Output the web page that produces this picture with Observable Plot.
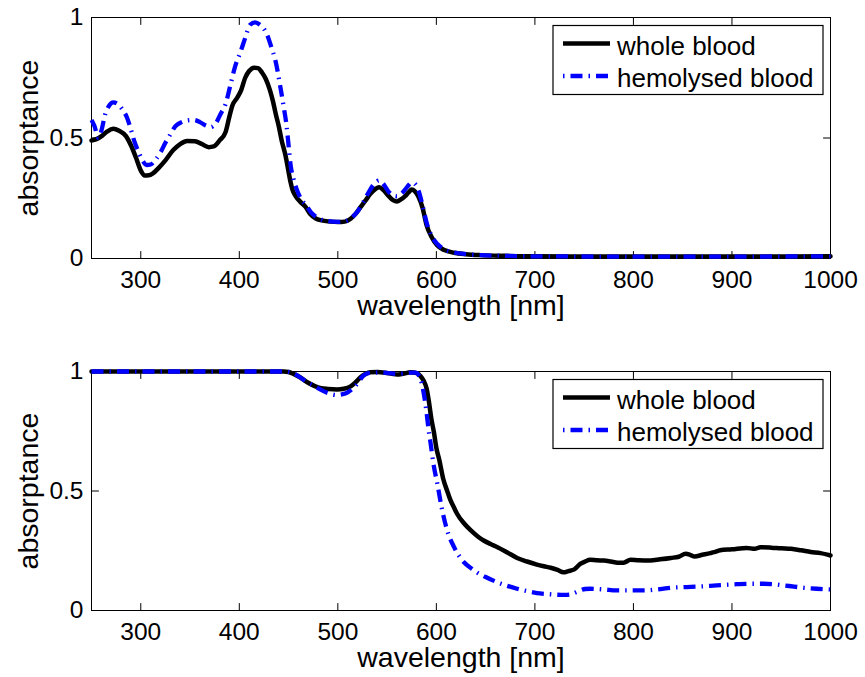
<!DOCTYPE html>
<html><head><meta charset="utf-8">
<script src="https://cdn.jsdelivr.net/npm/d3@7"></script>
<script src="https://cdn.jsdelivr.net/npm/@observablehq/plot@0.6"></script>
<style>
html,body{margin:0;padding:0;background:#fff;}
#chart svg{display:block;}
</style></head><body><div id="chart"></div>
<script>
// ---- tick values / labels ----
const xTicks = [300, 400, 500, 600, 700, 800, 900, 1000];
const xTickLabels = ["300", "400", "500", "600", "700", "800", "900", "1000"];
const yTicks = [0, 0.5, 1];
const yTickLabels = ["0", "0.5", "1"];
const xLabel = "wavelength [nm]";
const yLabel = "absorptance";
const seriesNames = ["whole blood", "hemolysed blood"];

// ---- top panel: whole blood ----
const topWholeWl = [250,255,261,266,272,278,285,290,295,300,304,308,312,318,325,333,340,347,355,362,369,374,380,386,390,393,398,402,406,410,415,419,423,427,431,434,437,440,443,447,450,452,454,457,462,467,472,478,485,492,500,507,513,518,523,528,533,538,542,546,551,556,560,564,568,572,575,578,582,586,590,595,601,608,618,630,645,670,700,800,900,1000];
const topWholeAbs = [0.49,0.495,0.51,0.527,0.538,0.53,0.508,0.47,0.42,0.365,0.344,0.345,0.352,0.375,0.407,0.45,0.475,0.488,0.487,0.475,0.462,0.465,0.49,0.524,0.59,0.635,0.668,0.7,0.75,0.778,0.792,0.79,0.772,0.744,0.7,0.655,0.6,0.55,0.49,0.425,0.36,0.317,0.285,0.26,0.235,0.215,0.185,0.165,0.157,0.153,0.151,0.153,0.165,0.185,0.213,0.24,0.268,0.288,0.296,0.285,0.262,0.242,0.237,0.245,0.258,0.275,0.286,0.28,0.255,0.21,0.14,0.09,0.054,0.035,0.024,0.018,0.014,0.011,0.009,0.008,0.008,0.009];

// ---- top panel: hemolysed blood ----
const topHemoWl = [250,253,257,260,264,268,272,277,281,286,290,294,298,302,306,310,315,320,325,330,335,341,347,354,360,366,371,376,381,386,391,396,401,406,411,416,421,425,429,432,437,442,445,448,450,452,455,458,463,468,473,480,490,500,508,514,520,526,532,537,542,546,551,556,560,565,570,575,578,582,586,590,595,601,608,618,630,645,670,700,800,900,1000];
const topHemoAbs = [0.575,0.55,0.5,0.53,0.6,0.635,0.648,0.64,0.62,0.585,0.535,0.48,0.44,0.405,0.388,0.39,0.41,0.44,0.48,0.515,0.548,0.565,0.573,0.575,0.566,0.552,0.545,0.56,0.6,0.64,0.72,0.8,0.855,0.915,0.97,0.98,0.97,0.953,0.92,0.884,0.815,0.704,0.63,0.55,0.47,0.39,0.33,0.29,0.245,0.22,0.19,0.168,0.155,0.152,0.156,0.17,0.195,0.235,0.28,0.31,0.324,0.31,0.28,0.262,0.258,0.27,0.295,0.315,0.31,0.28,0.22,0.15,0.095,0.06,0.038,0.025,0.018,0.014,0.011,0.009,0.008,0.008,0.009];

// ---- bottom panel: whole blood ----
const botWholeWl = [250,300,350,400,445,450,455,462,469,476,483,490,499,506,513,518,523,528,533,540,548,555,560,566,574,580,584,587,590,592,595,597.5,600,603,607,611,614,618,621,628,635,642,648,655,662,672,682,692,702,709,716,723,729,734,740,746,751,756,763,770,777,784,790,797,805,817,827,838,846,853,858,862,870,878,882,888,900,915,923,929,940,950,960,970,980,990,1000];
const botWholeAbs = [1,1,1,1,1,0.998,0.99,0.975,0.955,0.94,0.93,0.927,0.925,0.928,0.938,0.955,0.976,0.99,0.997,0.998,0.995,0.99,0.987,0.99,0.997,0.993,0.98,0.962,0.93,0.886,0.8,0.746,0.68,0.63,0.55,0.5,0.465,0.43,0.405,0.365,0.335,0.31,0.293,0.278,0.265,0.243,0.22,0.205,0.192,0.185,0.179,0.17,0.16,0.165,0.172,0.195,0.205,0.212,0.21,0.209,0.205,0.2,0.2,0.212,0.21,0.209,0.214,0.22,0.225,0.237,0.232,0.226,0.233,0.24,0.244,0.252,0.256,0.262,0.258,0.265,0.263,0.26,0.258,0.252,0.245,0.24,0.23];

// ---- bottom panel: hemolysed blood ----
const botHemoWl = [250,300,400,445,450,456,462,469,476,482,490,499,505,510,518,522,526,532,543,552,560,567,574,579,582,584,587,590,592,594,597,601,606,611,618,628,636,641,650,662,672,682,692,702,712,722,730,736,741,746,751,756,770,783,797,810,824,838,851,865,878,892,905,919,932,943,953,963,973,986,1000];
const botHemoAbs = [1,1,1,1,0.998,0.99,0.975,0.955,0.94,0.925,0.91,0.902,0.905,0.913,0.941,0.962,0.983,0.994,0.996,0.993,0.99,0.992,0.995,0.995,0.985,0.969,0.913,0.83,0.76,0.704,0.615,0.53,0.418,0.335,0.265,0.202,0.175,0.16,0.14,0.118,0.103,0.091,0.081,0.073,0.069,0.066,0.065,0.067,0.075,0.084,0.09,0.091,0.088,0.084,0.084,0.084,0.088,0.095,0.098,0.1,0.103,0.107,0.11,0.112,0.112,0.11,0.105,0.1,0.095,0.091,0.088];

const FONT = "'Liberation Sans', Arial, Helvetica, sans-serif";
const BLUE = "#0000ff";
const DASH = "12 6 1.5 6";

const toRows = (wl, ab) => wl.map((w, i) => ({wl: w, a: ab[i]}));
const tickShape = {draw(ctx, l) { ctx.moveTo(0, 0); ctx.lineTo(0, -l); }};

function panel(whole, hemo, height, marginTop, marginBottom) {
  const tick = (data, opts) => Plot.vector(data, {length: 7, anchor: "start", shape: tickShape, stroke: "black", strokeWidth: 1, ...opts});
  const svg = Plot.plot({
    width: 865, height, marginTop, marginBottom, marginLeft: 91, marginRight: 35,
    x: {domain: [250, 1000]},
    y: {domain: [0, 1]},
    style: {fontFamily: FONT, fontSize: "24.5px", color: "black", background: "white", overflow: "visible"},
    marks: [
      Plot.axisX({ticks: xTicks, anchor: "bottom", tickSize: 0, tickPadding: 12, label: null,
        tickFormat: d => xTickLabels[xTicks.indexOf(d)]}),
      Plot.axisY({ticks: yTicks, anchor: "left", tickSize: 0, tickPadding: 8, label: null,
        tickFormat: d => yTickLabels[yTicks.indexOf(d)]}),
      tick(xTicks, {x: d => d, y: 0, rotate: 0}),
      tick(xTicks, {x: d => d, y: 1, rotate: 180}),
      tick(yTicks, {x: 250, y: d => d, rotate: 90}),
      tick(yTicks, {x: 1000, y: d => d, rotate: -90}),
      Plot.frame({stroke: "black", strokeWidth: 1}),
      Plot.line(toRows(...whole), {x: "wl", y: "a", stroke: "black", strokeWidth: 4.5, curve: "monotone-x", strokeLinejoin: "round"}),
      Plot.line(toRows(...hemo), {x: "wl", y: "a", stroke: BLUE, strokeWidth: 4.3, curve: "monotone-x", strokeDasharray: DASH, strokeLinecap: "butt"}),
      Plot.text([xLabel], {text: d => d, frameAnchor: "bottom", textAnchor: "middle", lineAnchor: "bottom", dy: 56, fontSize: 28.5, fill: "black"}),
      Plot.text([yLabel], {text: d => d, frameAnchor: "left", textAnchor: "middle", rotate: -90, lineAnchor: "bottom", dx: -54, fontSize: 28.5, fill: "black"})
    ]
  });
  // legend box inside plot area (top-right)
  const s = d3.select(svg);
  const g = s.append("g").attr("class", "legend");
  const bx = 553, by = marginTop + 8.5, bw = 270, bh = 69;
  g.append("rect").attr("x", bx).attr("y", by).attr("width", bw).attr("height", bh)
    .attr("fill", "white").attr("stroke", "black").attr("stroke-width", 1.2);
  const rowsY = [by + 18, by + 50.5];
  g.append("line").attr("x1", 563).attr("x2", 610).attr("y1", rowsY[0]).attr("y2", rowsY[0])
    .attr("stroke", "black").attr("stroke-width", 4.5);
  g.append("line").attr("x1", 563).attr("x2", 610).attr("y1", rowsY[1]).attr("y2", rowsY[1])
    .attr("stroke", BLUE).attr("stroke-width", 4.3).attr("stroke-dasharray", DASH).attr("stroke-dashoffset", 18);
  seriesNames.forEach((name, i) => {
    g.append("text").attr("x", 617).attr("y", rowsY[i] + 11).attr("font-size", 26)
      .attr("text-anchor", "start")
      .attr("font-family", FONT).attr("fill", "black").text(name);
  });
  return svg;
}

const chart = document.getElementById("chart");
chart.appendChild(panel([topWholeWl, topWholeAbs], [topHemoWl, topHemoAbs], 338, 17, 80));
chart.appendChild(panel([botWholeWl, botWholeAbs], [botHemoWl, botHemoAbs], 339, 33, 67));
</script>
</body></html>
